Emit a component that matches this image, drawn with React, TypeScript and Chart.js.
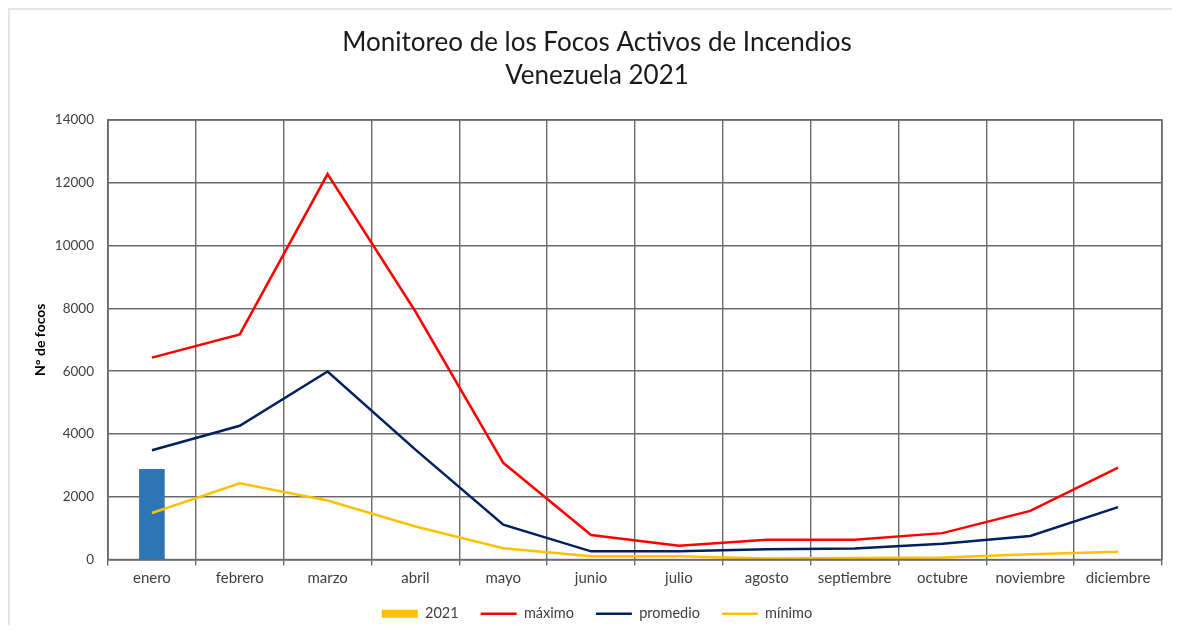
import React, { useEffect, useRef } from 'react';
import { Chart, registerables } from 'chart.js';

Chart.register(...registerables);

const months = ['enero', 'febrero', 'marzo', 'abril', 'mayo', 'junio', 'julio', 'agosto', 'septiembre', 'octubre', 'noviembre', 'diciembre'];
const serie2021: (number | null)[] = [2870, null, null, null, null, null, null, null, null, null, null, null];
const maximo = [6430, 7170, 12280, 7900, 3080, 780, 440, 630, 630, 840, 1550, 2930];
const promedio = [3480, 4260, 5990, 3500, 1110, 260, 260, 330, 350, 500, 750, 1670];
const minimo = [1480, 2430, 1880, 1050, 360, 100, 100, 30, 50, 60, 170, 250];
const titleLines = ['Monitoreo de los Focos Activos de Incendios', 'Venezuela 2021'];
const yTitle = 'N° de focos';
const yMax = 14000;
const yStep = 2000;

const FONT = 'Lato, "Open Sans", sans-serif';

export default function App() {
  const ref = useRef<HTMLCanvasElement | null>(null);

  useEffect(() => {
    if (!ref.current) return;
    const chart = new Chart(ref.current, {
      data: {
        labels: months,
        datasets: [
          {
            type: 'bar',
            label: '2021',
            data: serie2021,
            backgroundColor: '#2E75B6',
            borderWidth: 0,
            barThickness: 25,
            order: 2,
          },
          {
            type: 'line',
            label: 'máximo',
            data: maximo,
            borderColor: '#FF0000',
            backgroundColor: '#FF0000',
            borderWidth: 2.5,
            pointRadius: 0,
            tension: 0,
            order: 1,
          },
          {
            type: 'line',
            label: 'promedio',
            data: promedio,
            borderColor: '#002060',
            backgroundColor: '#002060',
            borderWidth: 2.5,
            pointRadius: 0,
            tension: 0,
            order: 1,
          },
          {
            type: 'line',
            label: 'mínimo',
            data: minimo,
            borderColor: '#FFC000',
            backgroundColor: '#FFC000',
            borderWidth: 2.5,
            pointRadius: 0,
            tension: 0,
            order: 1,
          },
        ],
      } as any,
      options: {
        animation: false,
        responsive: true,
        maintainAspectRatio: false,
        layout: { padding: { left: 22, right: 10, top: 0, bottom: 0 } },
        plugins: {
          title: {
            display: true,
            text: titleLines,
            color: '#1a1a1a',
            font: { family: FONT, size: 26, weight: 'normal' as any, lineHeight: 1.27 },
            padding: { top: 16, bottom: 28 },
          },
          tooltip: { enabled: false },
          legend: {
            position: 'bottom',
            labels: {
              color: '#404040',
              font: { family: FONT, size: 14.5 },
              usePointStyle: true,
              pointStyleWidth: 36,
              boxHeight: 8,
              padding: 22,
              generateLabels: (c: any) =>
                c.data.datasets.map((ds: any, i: number) => ({
                  text: ds.label,
                  fillStyle: i === 0 ? '#FFC000' : ds.borderColor,
                  strokeStyle: i === 0 ? '#FFC000' : ds.borderColor,
                  lineWidth: i === 0 ? 0 : 2.5,
                  pointStyle: i === 0 ? 'rect' : 'line',
                  hidden: false,
                  datasetIndex: i,
                  fontColor: '#404040',
                })),
            },
          },
        },
        scales: {
          x: {
            offset: true,
            grid: {
              display: true,
              offset: true,
              color: '#6a6a6a',
              lineWidth: 1.4,
              tickLength: 6,
              drawTicks: true,
            },
            border: { display: true, color: '#6a6a6a', width: 1.4 },
            ticks: {
              color: '#404040',
              font: { family: FONT, size: 15 },
              padding: 4,
              maxRotation: 0,
              autoSkip: false,
            },
          },
          y: {
            min: 0,
            max: yMax,
            afterFit: (s: any) => {
              s.width = 76;
            },
            grid: { color: '#6a6a6a', lineWidth: 1.4, tickLength: 0, drawTicks: false },
            border: { display: true, color: '#6a6a6a', width: 1.4 },
            ticks: {
              stepSize: yStep,
              color: '#404040',
              font: { family: FONT, size: 13.5 },
              padding: 14,
              callback: (v: any) => String(v),
            },
            title: {
              display: true,
              text: yTitle,
              color: '#000000',
              font: { family: FONT, size: 14, weight: 'bold' as any },
              padding: { top: 0, bottom: 8 },
            },
          },
        },
      },
      plugins: [
        {
          id: 'legendShift',
          afterLayout(c: any) {
            if (c.legend) {
              c.legend.top -= 7;
              c.legend.bottom -= 7;
            }
          },
        },
        {
          id: 'frame',
          afterDraw(c: any) {
            const { ctx, chartArea } = c;
            ctx.save();
            ctx.strokeStyle = '#6a6a6a';
            ctx.lineWidth = 1.4;
            ctx.strokeRect(chartArea.left, chartArea.top, chartArea.right - chartArea.left, chartArea.bottom - chartArea.top);
            ctx.restore();
          },
        },
      ],
    });
    return () => chart.destroy();
  }, []);

  return (
    <div
      style={{
        width: 1164,
        height: 617,
        boxSizing: 'border-box',
        borderTop: '2px solid #e4e4e4',
        borderLeft: '2px solid #e4e4e4',
        background: '#fff',
        overflow: 'hidden',
      }}
    >
      <div style={{ position: 'relative', width: 1162, height: 628 }}>
        <canvas ref={ref} />
      </div>
    </div>
  );
}
